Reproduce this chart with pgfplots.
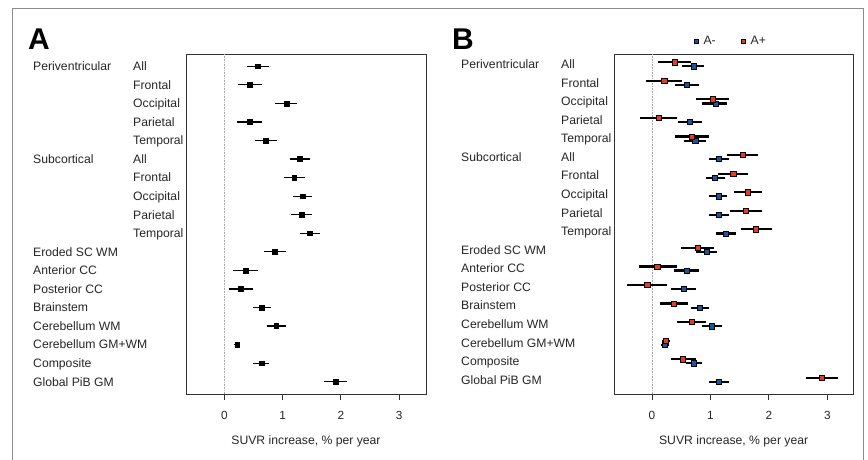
\documentclass[border=0pt]{standalone}
\usepackage{fontspec}
\setmainfont{Liberation Sans}
\usepackage{pgfplots}
\usepackage{pgfplotstable}
\pgfplotsset{compat=1.18}

\definecolor{aneg}{HTML}{1A55A5}
\definecolor{apos}{HTML}{E63B22}
\definecolor{framegray}{HTML}{8C8C8C}

% row, estimate, lower, upper
\pgfplotstableread{
row m lo hi
1 0.57 0.39 0.76
2 0.435 0.235 0.65
3 1.065 0.875 1.25
4 0.43 0.22 0.64
5 0.71 0.53 0.90
6 1.30 1.13 1.47
7 1.20 1.02 1.38
8 1.345 1.18 1.50
9 1.33 1.15 1.51
10 1.465 1.29 1.64
11 0.865 0.68 1.05
12 0.37 0.155 0.585
13 0.285 0.075 0.50
14 0.64 0.49 0.80
15 0.89 0.73 1.05
16 0.22 0.17 0.27
17 0.635 0.50 0.77
18 1.91 1.715 2.10
}\dataA

\pgfplotstableread{
row m lo hi
1 0.71 0.52 0.89
2 0.60 0.39 0.81
3 1.09 0.86 1.29
4 0.65 0.45 0.85
5 0.74 0.55 0.93
6 1.14 0.98 1.32
7 1.08 0.92 1.25
8 1.14 0.98 1.29
9 1.14 0.98 1.32
10 1.26 1.09 1.43
11 0.94 0.75 1.12
12 0.59 0.38 0.81
13 0.54 0.33 0.76
14 0.82 0.66 0.98
15 1.03 0.86 1.19
16 0.22 0.15 0.29
17 0.71 0.58 0.85
18 1.15 0.98 1.32
}\dataNeg

\pgfplotstableread{
row m lo hi
1 0.39 0.10 0.67
2 0.21 -0.10 0.52
3 1.04 0.75 1.32
4 0.12 -0.21 0.43
5 0.68 0.39 0.98
6 1.55 1.29 1.81
7 1.39 1.13 1.65
8 1.64 1.41 1.88
9 1.61 1.34 1.88
10 1.78 1.52 2.05
11 0.78 0.49 1.06
12 0.09 -0.23 0.42
13 -0.08 -0.42 0.25
14 0.37 0.14 0.61
15 0.68 0.43 0.92
16 0.23 0.17 0.31
17 0.53 0.32 0.75
18 2.90 2.63 3.18
}\dataPos

\tikzset{lab/.style={anchor=base west, inner sep=0pt, yshift=-4.3pt, font=\fontsize{12.2}{14}\selectfont, text=black!85}}

\newcommand\rowlabels[1]{%
  \node[lab] at ([xshift=-153pt]axis cs:#1,1) {Periventricular};
  \node[lab] at ([xshift=-153pt]axis cs:#1,6) {Subcortical};
  \node[lab] at ([xshift=-53pt]axis cs:#1,1) {All};
  \node[lab] at ([xshift=-53pt]axis cs:#1,2) {Frontal};
  \node[lab] at ([xshift=-53pt]axis cs:#1,3) {Occipital};
  \node[lab] at ([xshift=-53pt]axis cs:#1,4) {Parietal};
  \node[lab] at ([xshift=-53pt]axis cs:#1,5) {Temporal};
  \node[lab] at ([xshift=-53pt]axis cs:#1,6) {All};
  \node[lab] at ([xshift=-53pt]axis cs:#1,7) {Frontal};
  \node[lab] at ([xshift=-53pt]axis cs:#1,8) {Occipital};
  \node[lab] at ([xshift=-53pt]axis cs:#1,9) {Parietal};
  \node[lab] at ([xshift=-53pt]axis cs:#1,10) {Temporal};
  \node[lab] at ([xshift=-153pt]axis cs:#1,11) {Eroded SC WM};
  \node[lab] at ([xshift=-153pt]axis cs:#1,12) {Anterior CC};
  \node[lab] at ([xshift=-153pt]axis cs:#1,13) {Posterior CC};
  \node[lab] at ([xshift=-153pt]axis cs:#1,14) {Brainstem};
  \node[lab] at ([xshift=-153pt]axis cs:#1,15) {Cerebellum WM};
  \node[lab] at ([xshift=-153pt]axis cs:#1,16) {Cerebellum GM+WM};
  \node[lab] at ([xshift=-153pt]axis cs:#1,17) {Composite};
  \node[lab] at ([xshift=-153pt]axis cs:#1,18) {Global PiB GM};
  \node[font=\fontsize{12.2}{14}\selectfont, text=black!85] at (rel axis cs:0.5,-0.1403) {SUVR increase, \% per year};
}

\pgfplotsset{forest/.style={
  scale only axis, height=340pt, y dir=reverse,
  xtick={0,1,2,3}, ytick=\empty, xtick pos=bottom,
  tick align=outside, major tick length=6pt,
  axis line style={line width=0.8pt, black!80},
  every tick/.style={black!80, line width=0.8pt},
  xticklabel style={font=\fontsize{11.8}{13}\selectfont, text=black!85, yshift=-7.5pt},
  /pgf/number format/assume math mode=true,
  clip=false,
}}

\begin{document}
\begin{tikzpicture}
\useasboundingbox (0pt,0pt) rectangle (868pt,460pt);
\draw[framegray, line width=0.8pt] (12pt,0pt) -- (12pt,452pt) -- (863pt,452pt) -- (863pt,0pt);
\node[anchor=base west, inner sep=0pt, font=\fontsize{30}{30}\selectfont\bfseries] at (28pt,410pt) {A};
\node[anchor=base west, inner sep=0pt, font=\fontsize{30}{30}\selectfont\bfseries] at (452pt,410pt) {B};

\begin{axis}[forest, at={(186pt,66pt)}, anchor=south west, width=240pt,
  xmin=-0.657, xmax=3.46, ymin=0.34, ymax=18.66]
  \draw[black!35, densely dotted, line width=0.6pt] (axis cs:0,0.34) -- (axis cs:0,18.66);
  \addplot[only marks, mark=square*, mark size=2.4pt, black,
    error bars/.cd, x dir=both, x explicit, error mark=none,
    error bar style={line width=1.2pt, black}]
    table[x=m, y=row, x error plus expr=\thisrow{hi}-\thisrow{m},
          x error minus expr=\thisrow{m}-\thisrow{lo}] {\dataA};
  \rowlabels{-0.657}
\end{axis}

\begin{axis}[forest, at={(614pt,66pt)}, anchor=south west, width=239.3pt,
  xmin=-0.65, xmax=3.445, ymin=0.445, ymax=18.76,
  legend columns=2,
  legend style={draw=none, fill=none, at={(0.49,1.038)}, anchor=center,
    font=\fontsize{12.2}{14}\selectfont, text=black!85,
    /tikz/every odd column/.append style={column sep=3pt},
    /tikz/every even column/.append style={column sep=24pt}},
  legend image code/.code={\draw[#1, mark size=2pt] plot coordinates {(0cm,0cm)};}]
  \draw[black!35, densely dotted, line width=0.6pt] (axis cs:0,0.445) -- (axis cs:0,18.76);
  \addplot[only marks, mark=square*, mark size=2.6pt, mark options={fill=aneg, draw=black, line width=0.6pt},
    error bars/.cd, x dir=both, x explicit, error mark=none,
    error bar style={line width=2.2pt, black}]
    table[x=m, y expr=\thisrow{row}+0.11, x error plus expr=\thisrow{hi}-\thisrow{m},
          x error minus expr=\thisrow{m}-\thisrow{lo}] {\dataNeg};
  \addlegendentry{A-}
  \addplot[only marks, mark=square*, mark size=2.6pt, mark options={fill=apos, draw=black, line width=0.6pt},
    error bars/.cd, x dir=both, x explicit, error mark=none,
    error bar style={line width=2.2pt, black}]
    table[x=m, y expr=\thisrow{row}-0.11, x error plus expr=\thisrow{hi}-\thisrow{m},
          x error minus expr=\thisrow{m}-\thisrow{lo}] {\dataPos};
  \addlegendentry{A+}
  \rowlabels{-0.65}
\end{axis}
\end{tikzpicture}
\end{document}
